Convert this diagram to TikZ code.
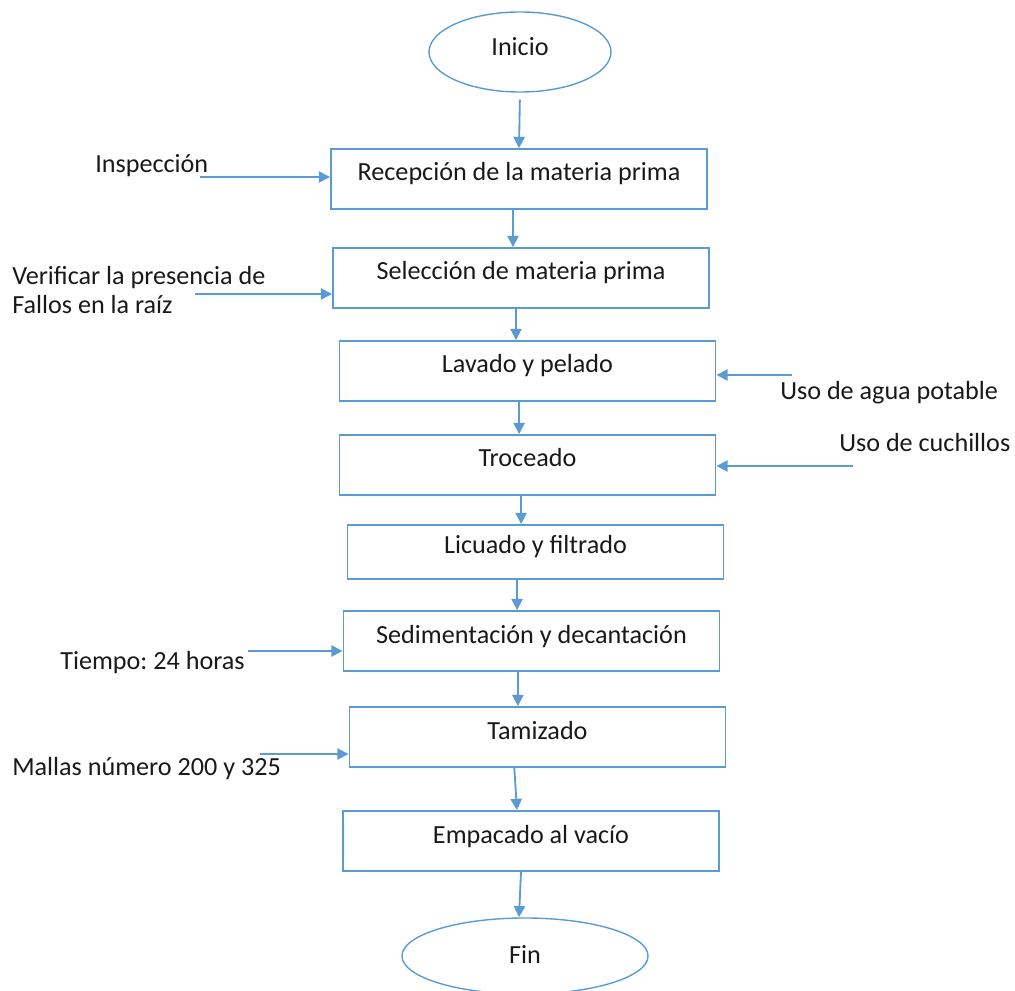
\documentclass[tikz,border=0pt]{standalone}
\usepackage{fontspec}
\setmainfont{Carlito}
\usepackage{tikz}
\usetikzlibrary{arrows.meta}
\usetikzlibrary{shapes.geometric}
\definecolor{flowblue}{RGB}{91,155,213}
\frenchspacing

\begin{document}
\begin{tikzpicture}[x=0.025cm, y=-0.025cm, >={Triangle[length=8pt,width=8pt]},
                    every node/.style={font=\fontsize{18.6}{21.3}\selectfont, text=black!90},
                    stepbox/.style={draw=flowblue, line width=1.3pt, rectangle, minimum width=9.4cm,
                                    inner sep=0pt, text height=0.8cm, text depth=0.7cm},
                    endpoint/.style={draw=flowblue, line width=1pt, ellipse, inner sep=0pt},
                    note/.style={inner sep=0pt, anchor=base west, align=left},
                    flow/.style={->, draw=flowblue, line width=1.3pt}]

\useasboundingbox (0,0) rectangle (1015,991);

\node[endpoint, minimum width=4.55cm, minimum height=2cm, text depth=0.25cm] (ini) at (520,52) {Inicio};
\node[stepbox] (rec) at (519,179) {Recepción de la materia prima};
\node[stepbox] (sel) at (521,278) {Selección de materia prima};
\node[stepbox] (lav) at (527.5,371) {Lavado y pelado};
\node[stepbox] (tro) at (527.5,465) {Troceado};
\node[stepbox, text height=0.72cm, text depth=0.63cm] (lic) at (535.5,552) {Licuado y filtrado};
\node[stepbox] (sed) at (531.5,641) {Sedimentación y decantación};
\node[stepbox] (tam) at (537.5,737) {Tamizado};
\node[stepbox] (emp) at (531,841) {Empacado al vacío};
\node[endpoint, minimum width=6.15cm, minimum height=1.9cm, text depth=0.1cm] (fin) at (525,956) {Fin};

\node[note] (insp) at (95,173) {Inspección};
\node[note] (verif) at (12,314) {Verificar la presencia de\\Fallos en la raíz};
\node[note] (agua) at (780,400) {Uso de agua potable};
\node[note] (cuch) at (839,452) {Uso de cuchillos};
\node[note] (tiem) at (60,669) {Tiempo: 24 horas};
\node[note] (mall) at (12,775) {Mallas número 200 y 325};

\coordinate (insp-in) at (200,177);
\coordinate (verif-in) at (195,294);
\coordinate (agua-in) at (792,375);
\coordinate (cuch-in) at (853,466);
\coordinate (tiem-in) at (248,651);
\coordinate (mall-in) at (260,754);

\draw[flow, shorten <=0.17cm] (ini.south) -- (rec.north);
\draw[flow] ([xshift=-0.15cm]rec.south) -- ([xshift=-0.15cm]rec.south |- sel.north);
\draw[flow] ([xshift=-0.125cm]sel.south) -- ([xshift=-0.125cm]sel.south |- lav.north);
\draw[flow] ([xshift=-0.21cm]lav.south) -- ([xshift=-0.21cm]lav.south |- tro.north);
\draw[flow] ([xshift=-0.16cm]tro.south) -- ([xshift=-0.16cm]tro.south |- lic.north);
\draw[flow] ([xshift=-0.46cm]lic.south) -- ([xshift=-0.46cm]lic.south |- sed.north);
\draw[flow] ([xshift=-0.34cm]sed.south) -- ([xshift=-0.34cm]sed.south |- tam.north);
\draw[flow] ([xshift=-0.58cm]tam.south) -- ([xshift=-0.35cm]emp.north);
\draw[flow] ([xshift=-0.25cm]emp.south) -- ([xshift=-0.15cm]fin.north);

\draw[flow] (insp-in) -- (insp-in -| rec.west);
\draw[flow] (verif-in) -- (verif-in -| sel.west);
\draw[flow] (agua-in) -- (agua-in -| lav.east);
\draw[flow] (cuch-in) -- (cuch-in -| tro.east);
\draw[flow] (tiem-in) -- (tiem-in -| sed.west);
\draw[flow] (mall-in) -- (mall-in -| tam.west);
\end{tikzpicture}
\end{document}
